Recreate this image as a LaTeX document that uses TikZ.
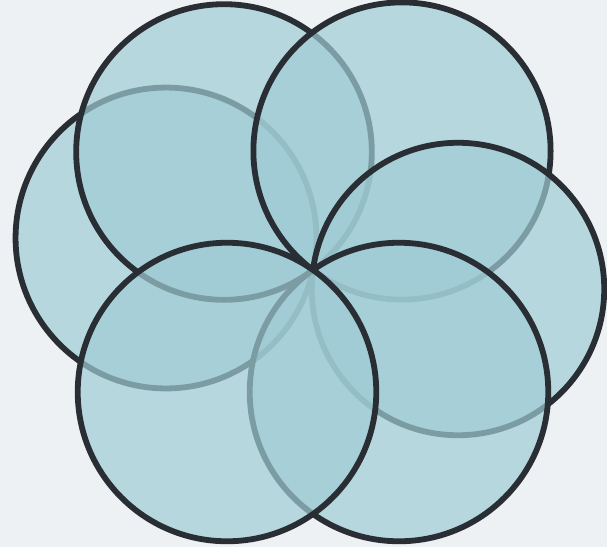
\documentclass[tikz,border=0pt]{standalone}
\usepackage{xcolor}
\usepackage{tikz}
\usetikzlibrary{calc}

\definecolor{paper}{HTML}{EEF1F4}
\definecolor{petalfill}{HTML}{A0CCD5}
\definecolor{rim}{HTML}{282E33}

\begin{document}
\begin{tikzpicture}[
  x=1pt, y=-1pt,
  petal/.style={draw=rim, line width=5.8pt, fill=petalfill, fill opacity=0.7}
]

% --- Canvas ---
\fill[paper] (0,0) rectangle (607,547);
\useasboundingbox (0,0) rectangle (607,547);

% --- Common point and petal centres ---
\coordinate (hub) at (313,270);
\coordinate (pl)  at (166,238);
\coordinate (ptl) at (224,152);
\coordinate (ptr) at (402,151);
\coordinate (pr)  at (458,289);
\coordinate (pbr) at (399,392);
\coordinate (pbl) at (227,392);

% === Petals, each through the hub (order sets which rims fade) ===
\foreach \c in {pl, ptl, ptr, pr, pbr, pbl}
  \draw[petal] let \p1 = ($(\c)-(hub)$), \n1 = {veclen(\x1,\y1)} in
    (\c) circle[radius=\n1];

\end{tikzpicture}
\end{document}
